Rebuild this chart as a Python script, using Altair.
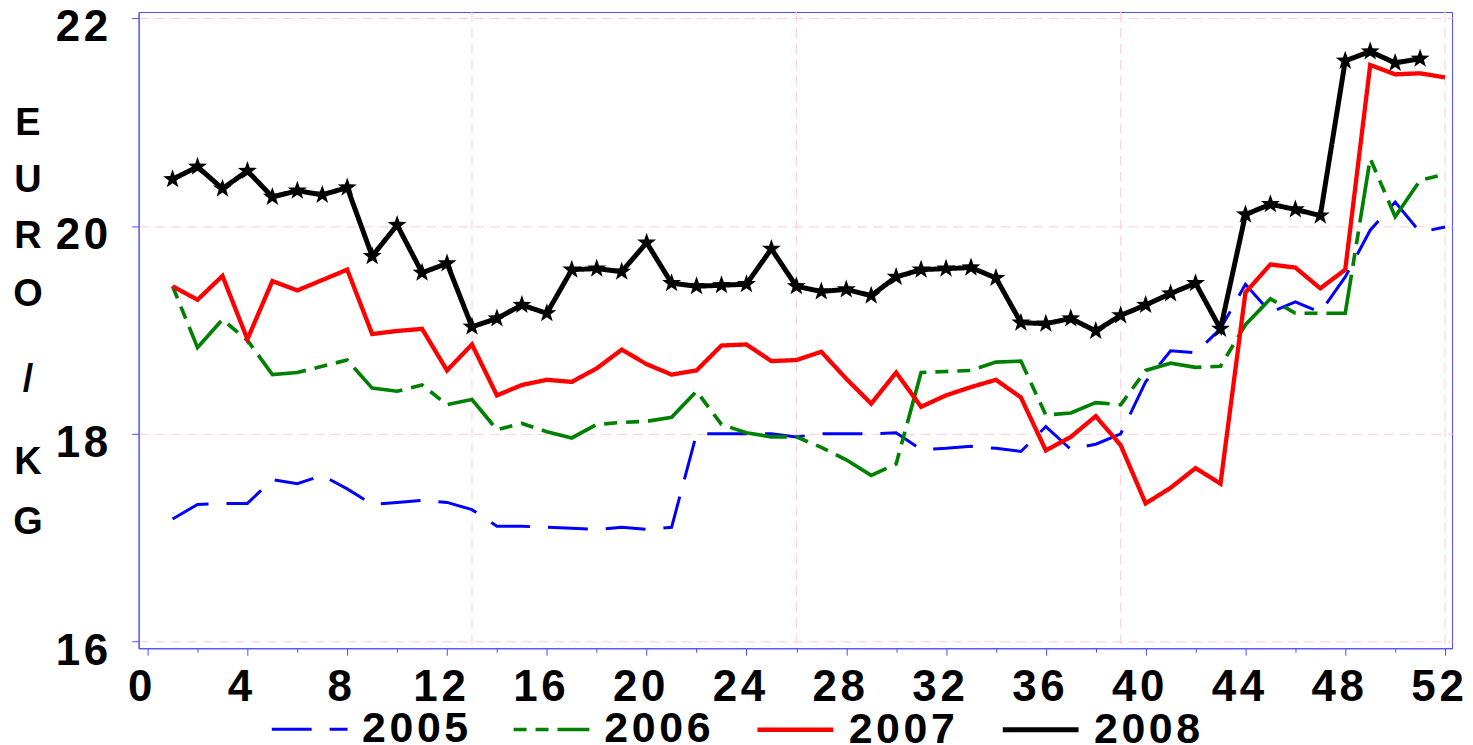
import altair as alt
import pandas as pd

# ---------------- data ----------------
YEARS = ["2005", "2006", "2007", "2008"]
WEEKS = list(range(1, 53))

Y2005 = [17.18, 17.32, 17.33, 17.33, 17.56, 17.52, 17.60, 17.47, 17.32, 17.34,
         17.36, 17.34, 17.27, 17.11, 17.11, 17.10, 17.09, 17.08, 17.10, 17.08,
         17.10, 18.00, 18.00, 18.00, 18.00, 17.97, 18.00, 18.00, 18.00, 18.01,
         17.85, 17.86, 17.88, 17.86, 17.83, 18.07, 17.85, 17.90, 18.00, 18.50,
         18.80, 18.78, 19.01, 19.44, 19.17, 19.27, 19.17, 19.51, 19.96, 20.23,
         19.94, 19.99]
Y2006 = [19.42, 18.83, 19.10, 18.90, 18.57, 18.59, 18.65, 18.71, 18.44, 18.41,
         18.47, 18.28, 18.33, 18.04, 18.10, 18.02, 17.96, 18.09, 18.11, 18.12,
         18.16, 18.41, 18.09, 18.01, 17.97, 17.97, 17.87, 17.75, 17.60, 17.71,
         18.59, 18.60, 18.61, 18.69, 18.70, 18.18, 18.20, 18.30, 18.28, 18.61,
         18.68, 18.64, 18.65, 19.05, 19.30, 19.16, 19.16, 19.16, 20.65, 20.09,
         20.44, 20.50]
Y2007 = [19.42, 19.29, 19.52, 18.91, 19.47, 19.38, 19.48, 19.58, 18.96, 18.99,
         19.01, 18.61, 18.86, 18.37, 18.47, 18.52, 18.50, 18.63, 18.81, 18.67,
         18.57, 18.61, 18.85, 18.86, 18.70, 18.71, 18.79, 18.53, 18.29, 18.59,
         18.26, 18.37, 18.45, 18.52, 18.35, 17.84, 17.97, 18.17, 17.89, 17.33,
         17.48, 17.67, 17.52, 19.36, 19.63, 19.60, 19.40, 19.58, 21.55, 21.46,
         21.47, 21.43]
Y2008 = [20.45, 20.57, 20.36, 20.53, 20.28, 20.34, 20.30, 20.37, 19.71, 20.01,
         19.55, 19.64, 19.03, 19.11, 19.24, 19.16, 19.58, 19.59, 19.56, 19.84,
         19.45, 19.42, 19.43, 19.44, 19.78, 19.42, 19.37, 19.39, 19.33, 19.51,
         19.58, 19.59, 19.60, 19.50, 19.07, 19.06, 19.11, 18.99, 19.14, 19.24,
         19.35, 19.45, 19.01, 20.11, 20.21, 20.16, 20.10, 21.59, 21.68, 21.57,
         21.61]

X_TICKS = list(range(0, 53))
X_LABEL_STEP = 4
X_GRID = [13, 26, 39, 52]
Y_TICKS = [16, 18, 20, 22]
TITLE_CHARS = ["E", "U", "R", "O", "/", "K", "G"]

# ---------------- table ----------------
rows = []
for yr, vals in zip(YEARS, [Y2005, Y2006, Y2007, Y2008]):
    for w, v in zip(WEEKS, vals):
        rows.append({"week": w, "price": v, "year": yr})
df = pd.DataFrame(rows)
df_2008 = df[df["year"] == "2008"]
grid_df = pd.DataFrame({"gx": X_GRID})

# ---------------- layout / style ----------------
W, H = 1317, 638
PINK = "#FFCCD6"
FRAME = "#4B4BFF"
FONT = "Liberation Sans"
HS = "\u200a"  # hair space: the reference digits are slightly letter-spaced
SPACED = f"join(split(datum.label, ''), '{HS}')"
COLORS = ["#0000FF", "#008000", "#FF0000", "#000000"]
DASHES = [[40, 18], [13, 9, 13, 9, 58, 9], [1, 0], [1, 0]]
WIDTHS = [3, 5, 6, 7]
STAR = ("M0,-1 L0.235,-0.324 L0.951,-0.309 L0.380,0.124 L0.588,0.809 "
        "L0,0.4 L-0.588,0.809 L-0.380,0.124 L-0.951,-0.309 L-0.235,-0.324 Z")

x_scale = alt.Scale(domain=[-0.36, 52.28], nice=False, zero=False)
y_scale = alt.Scale(domain=[15.936, 22.06], nice=False, zero=False)

x_axis = alt.Axis(
    values=X_TICKS, title=None, grid=False, format="d",
    labelExpr=f"datum.value % {X_LABEL_STEP} === 0 ? {SPACED} : ''",
    tickSize={"condition": {"test": f"datum.value % {X_LABEL_STEP} === 0", "value": 7}, "value": 4},
    tickColor=FRAME, domainColor=FRAME, labelColor="black",
    labelFont=FONT, labelFontSize=44, labelFontWeight="bold",
    labelBaseline="alphabetic", labelPadding=45, labelOffset=-8,
    labelOverlap=False, labelFlush=False,
)
y_axis = alt.Axis(
    values=Y_TICKS, title=None, grid=True, gridColor=PINK, gridDash=[10, 6],
    format="d", labelExpr=SPACED,
    tickSize=7, tickColor=FRAME, domainColor=FRAME, labelColor="black",
    labelFont=FONT, labelFontSize=44, labelFontWeight="bold",
    labelBaseline="alphabetic", labelPadding=24, labelOffset=22.5,
)

vgrid = alt.Chart(grid_df).mark_rule(color=PINK, strokeDash=[10, 6], strokeWidth=1).encode(
    x=alt.X("gx:Q", scale=x_scale, axis=x_axis)
)

lines = alt.Chart(df).mark_line(clip=True).encode(
    x=alt.X("week:Q", scale=x_scale, axis=x_axis),
    y=alt.Y("price:Q", scale=y_scale, axis=y_axis),
    color=alt.Color("year:N", scale=alt.Scale(domain=YEARS, range=COLORS),
                    legend=alt.Legend(
                        orient="none", legendX=132, legendY=679, direction="horizontal",
                        title=None, symbolType="stroke", symbolSize=5776,
                        labelExpr=SPACED,
                        labelFont=FONT, labelFontSize=43, labelFontWeight="bold",
                        labelColor="black", labelOffset=13, columnPadding=37, padding=0,
                        labelLimit=400)),
    strokeDash=alt.StrokeDash("year:N", scale=alt.Scale(domain=YEARS, range=DASHES)),
    strokeWidth=alt.StrokeWidth("year:O", scale=alt.Scale(domain=YEARS, range=WIDTHS)),
    order=alt.Order("week:Q"),
)

stars = alt.Chart(df_2008).mark_point(shape=STAR, filled=True, color="black",
                                      opacity=1, size=400).encode(
    x=alt.X("week:Q", scale=x_scale),
    y=alt.Y("price:Q", scale=y_scale),
)

TITLE_Y = [112, 169, 226, 284, 369, 452, 512]
title_layers = []
for ch, py in zip(TITLE_CHARS, TITLE_Y):
    title_layers.append(
        alt.Chart(pd.DataFrame({"t": [ch]})).mark_text(
            font=FONT, fontSize=38, fontWeight="bold", color="black",
            align="center", baseline="middle"
        ).encode(text="t:N", x=alt.value(-111), y=alt.value(py))
    )

chart = alt.layer(vgrid, lines, stars, *title_layers).properties(
    width=W, height=H,
    padding={"left": 131, "top": 3, "right": 13, "bottom": 96},
    autosize=alt.AutoSizeParams(type="none"),
).configure_view(stroke=FRAME, strokeWidth=1)

chart.save("out.html", embed_options={"renderer": "svg", "actions": False})
